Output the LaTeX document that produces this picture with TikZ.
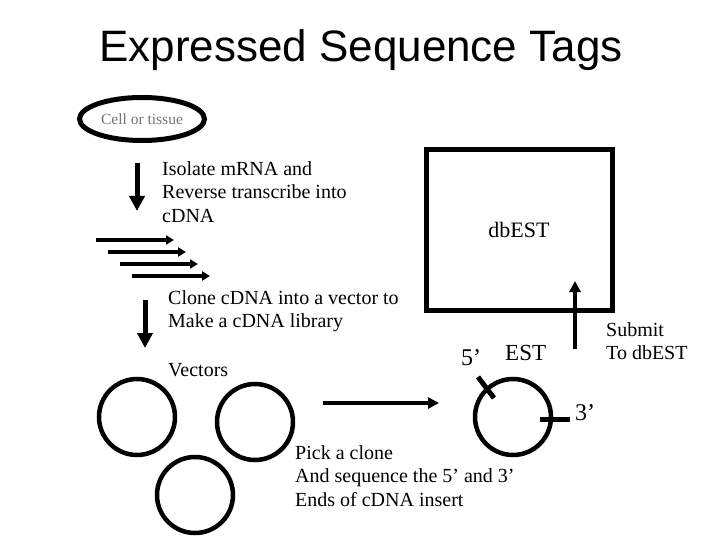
\documentclass[tikz,border=0pt]{standalone}
\usepackage{fontspec}
\setmainfont{Liberation Serif}
\newfontfamily\titlefont{Liberation Sans}
\usetikzlibrary{arrows.meta,shapes.geometric}
\begin{document}
\begin{tikzpicture}[x=1pt,y=-1pt,
  txt/.style={font=\fontsize{20}{23.5}\selectfont, inner sep=0pt, align=left, anchor=north west},
  lbl/.style={font=\fontsize{23}{27}\selectfont, inner sep=0pt, anchor=base west},
  bigarrow/.style={line width=5pt,-{Triangle[width=15pt,length=15pt]}},
  smallarrow/.style={line width=4pt,-{Triangle[width=9pt,length=8pt]}},
  midarrow/.style={line width=4pt,-{Triangle[width=11pt,length=11pt]}},
  ring/.style={circle, draw, line width=4.5pt, minimum size=76pt, inner sep=0pt},
  tick/.style={line width=5pt},
]
\useasboundingbox (0,0) rectangle (720,540);

% title
\node[font=\titlefont\fontsize{44}{50}\selectfont, inner sep=0pt, anchor=base] (title) at (361,62) {Expressed Sequence Tags};

% cell or tissue
\node[ellipse, draw, line width=5pt, minimum width=125pt, minimum height=43pt, inner sep=0pt,
      text=black!55, font=\fontsize{15.5}{18}\selectfont] (cell) at (142,119) {Cell or tissue};

% step 1
\coordinate (a1s) at (137,163);
\coordinate (a1e) at (137,211);
\draw[bigarrow] (a1s) -- (a1e);
\node[txt] (iso) at (162,161) {Isolate mRNA and\\Reverse transcribe into\\cDNA};

% cDNA strands
\coordinate (c1s) at (96,240);  \coordinate (c1e) at (174,240);
\coordinate (c2s) at (108,252); \coordinate (c2e) at (186,252);
\coordinate (c3s) at (120,264); \coordinate (c3e) at (198,264);
\coordinate (c4s) at (132,276); \coordinate (c4e) at (210,276);
\draw[smallarrow] (c1s) -- (c1e);
\draw[smallarrow] (c2s) -- (c2e);
\draw[smallarrow] (c3s) -- (c3e);
\draw[smallarrow] (c4s) -- (c4e);

% step 2
\coordinate (a2s) at (145,300);
\coordinate (a2e) at (145,348);
\draw[bigarrow] (a2s) -- (a2e);
\node[txt] (clone) at (168,290) {Clone cDNA into a vector to\\Make a cDNA library};
\node[txt] (vec) at (168,363) {Vectors};

% vectors
\node[ring] (v1) at (137,417) {};
\node[ring] (v2) at (255,422) {};
\node[ring] (v3) at (195,495) {};

% pick arrow
\coordinate (ps) at (323,403);
\coordinate (pe) at (439,403);
\draw[midarrow] (ps) -- (pe);
\node[txt] (pick) at (295,445) {Pick a clone\\And sequence the 5’ and 3’\\Ends of cDNA insert};

% EST clone
\node[ring] (est) at (513,417) {};
\coordinate (t5a) at (478,377);
\coordinate (t5b) at (494,398);
\draw[tick] (t5a) -- (t5b);
\coordinate (t3a) at (540,419);
\coordinate (t3b) at (570,419);
\draw[tick] (t3a) -- (t3b);
\node[lbl, font=\fontsize{24}{28}\selectfont] (three) at (575,420) {3’};
\node[lbl, font=\fontsize{24}{28}\selectfont] (five) at (461,365) {5’};
\node[lbl] (esttxt) at (505,360) {EST};

% database
\node[draw, line width=5pt, minimum width=186pt, minimum height=160pt, inner sep=0pt,
      font=\fontsize{22}{26}\selectfont] (db) at (519,230) {dbEST};
\coordinate (us) at (575,349);
\coordinate (ue) at (575,281);
\draw[midarrow] (us) -- (ue);
\node[txt] (submit) at (606,322) {Submit\\To dbEST};
\end{tikzpicture}
\end{document}
